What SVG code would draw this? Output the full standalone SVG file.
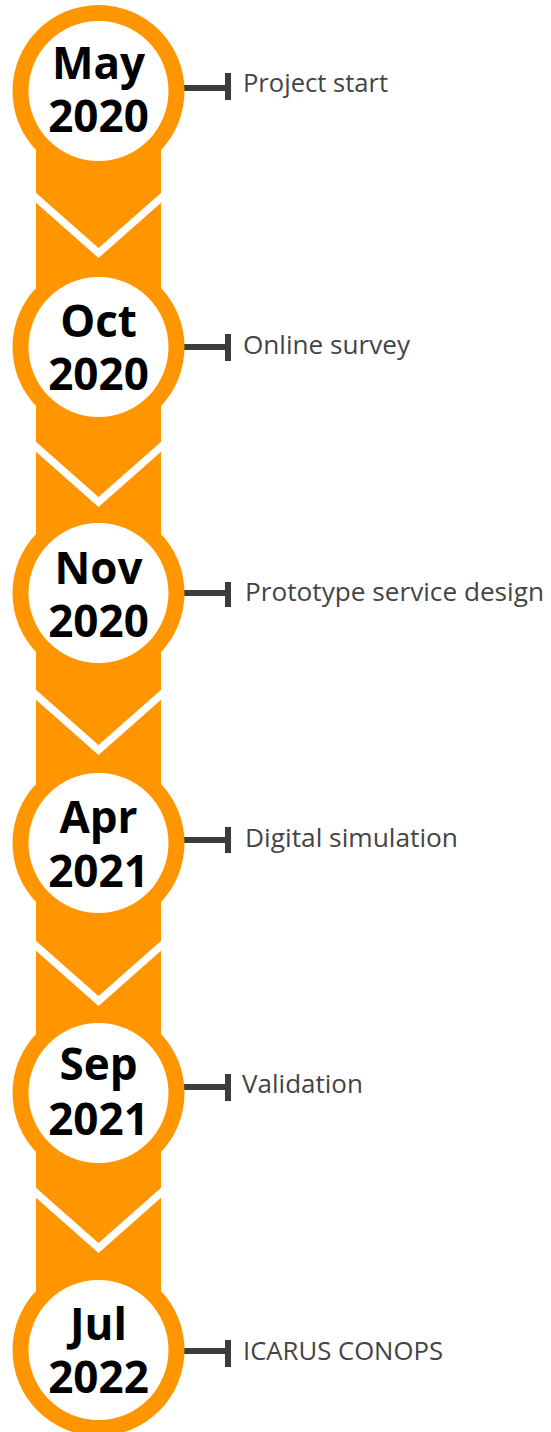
<svg xmlns="http://www.w3.org/2000/svg" width="551" height="1432" viewBox="0 0 551 1432">
<style>
.ring{fill:#FF9600}
.hole{fill:#FFFFFF}
.chev{fill:none;stroke:#FFFFFF;stroke-width:7.5;stroke-linejoin:miter}
.date{font-family:"Open Sans","DejaVu Sans",sans-serif;font-weight:bold;font-size:44px;fill:#000000;text-anchor:middle}
.lbl{font-family:"Open Sans","DejaVu Sans",sans-serif;font-size:26px;fill:#444444}
.conn{stroke:#3C3C3C;stroke-width:6;fill:none}
</style>
<rect id="band" x="36" y="91" width="125" height="1259" class="ring"/>
<g id="chevrons">
<polyline class="chev" points="30,192.5 98.5,253 167,192.5"/>
<polyline class="chev" points="30,441.5 98.5,502 167,441.5"/>
<polyline class="chev" points="30,689.5 98.5,750 167,689.5"/>
<polyline class="chev" points="30,940.5 98.5,1001 167,940.5"/>
<polyline class="chev" points="30,1187.5 98.5,1248 167,1187.5"/>
</g>
<g id="connectors">
<path class="conn" d="M180,88H228M228,73V100"/>
<path class="conn" d="M180,347H228M228,334V361"/>
<path class="conn" d="M180,593H228M228,582V607"/>
<path class="conn" d="M180,840H228M228,827V853"/>
<path class="conn" d="M180,1087H228M228,1074V1101"/>
<path class="conn" d="M180,1351H228M228,1340V1367"/>
</g>
<g id="n1">
<circle cx="98.5" cy="91" r="86" class="ring"/>
<circle cx="98.5" cy="91" r="70" class="hole"/>
<text class="date" x="98.5" y="79">May</text>
<text class="date" x="98.5" y="132">2020</text>
<text class="lbl" x="243" y="92" textLength="145" lengthAdjust="spacingAndGlyphs">Project start</text>
</g>
<g id="n2">
<circle cx="98.5" cy="347" r="86" class="ring"/>
<circle cx="98.5" cy="347" r="70" class="hole"/>
<text class="date" x="98.5" y="337">Oct</text>
<text class="date" x="98.5" y="390">2020</text>
<text class="lbl" x="243" y="354" textLength="167" lengthAdjust="spacingAndGlyphs">Online survey</text>
</g>
<g id="n3">
<circle cx="98.5" cy="593" r="86" class="ring"/>
<circle cx="98.5" cy="593" r="70" class="hole"/>
<text class="date" x="98.5" y="584">Nov</text>
<text class="date" x="98.5" y="637">2020</text>
<text class="lbl" x="245" y="601" textLength="299" lengthAdjust="spacingAndGlyphs">Prototype service design</text>
</g>
<g id="n4">
<circle cx="98.5" cy="843" r="86" class="ring"/>
<circle cx="98.5" cy="843" r="70" class="hole"/>
<text class="date" x="98.5" y="833">Apr</text>
<text class="date" x="98.5" y="887">2021</text>
<text class="lbl" x="245" y="847" textLength="213" lengthAdjust="spacingAndGlyphs">Digital simulation</text>
</g>
<g id="n5">
<circle cx="98.5" cy="1093" r="86" class="ring"/>
<circle cx="98.5" cy="1093" r="70" class="hole"/>
<text class="date" x="98.5" y="1080">Sep</text>
<text class="date" x="98.5" y="1135">2021</text>
<text class="lbl" x="242" y="1093" textLength="121" lengthAdjust="spacingAndGlyphs">Validation</text>
</g>
<g id="n6">
<circle cx="98.5" cy="1350" r="86" class="ring"/>
<circle cx="98.5" cy="1350" r="70" class="hole"/>
<text class="date" x="98.5" y="1340">Jul</text>
<text class="date" x="98.5" y="1393">2022</text>
<text class="lbl" x="243" y="1360" textLength="200" lengthAdjust="spacingAndGlyphs">ICARUS CONOPS</text>
</g>
</svg>
